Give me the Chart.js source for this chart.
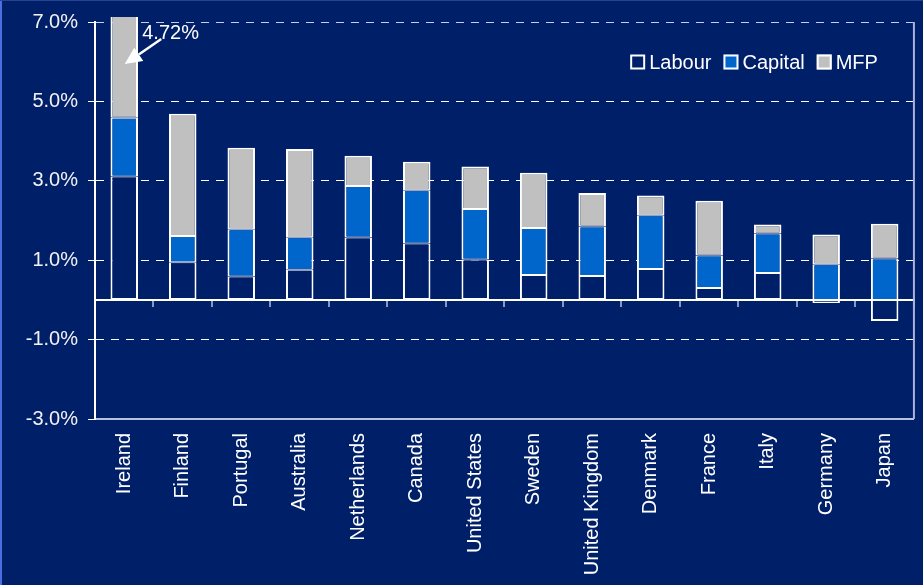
<!DOCTYPE html>
<html><head><meta charset="utf-8">
<script src="https://cdn.jsdelivr.net/npm/chart.js@4/dist/chart.umd.min.js"></script>
<style>
html,body{margin:0;padding:0;background:#001f69;overflow:hidden;}
#wrap{position:relative;width:923px;height:585px;}
#edge{position:absolute;left:0;top:0;width:2px;height:585px;background:#4a6fe0;}
#topedge{position:absolute;left:0;top:0;width:923px;height:1px;background:#2a4090;}
</style></head><body>
<div id="wrap"><canvas id="c" width="923" height="585"></canvas><div id="edge"></div><div id="topedge"></div></div>
<script>
const countries = ['Ireland','Finland','Portugal','Australia','Netherlands','Canada','United States','Sweden','United Kingdom','Denmark','France','Italy','Germany','Japan'];
const labour  = [3.11, 0.95, 0.59, 0.76, 1.57, 1.42, 1.02, 0.63, 0.60, 0.78, 0.30, 0.68, -0.08, -0.53];
const capital = [1.48, 0.66, 1.19, 0.82, 1.30, 1.34, 1.27, 1.18, 1.25, 1.35, 0.82, 0.99, 0.90, 1.04];
const mfp     = [4.72, 3.08, 2.05, 2.22, 0.76, 0.72, 1.07, 1.39, 0.84, 0.50, 1.38, 0.23, 0.75, 0.88];
const seriesNames = ['Labour','Capital','MFP'];
const yTicks = [-3, -1, 1, 3, 5, 7];
const calloutText = '4.72%';

const NAVY = '#001f69', BLUE = '#0066cc', GREY = '#c0c0c0';
const FONT = '"Liberation Sans", Arial, sans-serif';

const overlayPlugin = {
  id: 'overlay',
  afterDraw(chart) {
    const {ctx, chartArea} = chart;
    const xs = chart.scales.x, ys = chart.scales.y;
    ctx.save();
    // right frame
    ctx.strokeStyle = '#a8b2dc'; ctx.lineWidth = 2;
    ctx.beginPath(); ctx.moveTo(chartArea.right, chartArea.top); ctx.lineTo(chartArea.right, chartArea.bottom); ctx.stroke();

    // legend
    ctx.font = '20px ' + FONT;
    ctx.textBaseline = 'middle';
    const box = 15, gapBT = 4, gapItem = 12;
    const items = chart.data.datasets.map(d => ({label: d.label, fill: d.backgroundColor}));
    let total = 0;
    items.forEach((it, i) => { it.w = ctx.measureText(it.label).width; total += box + gapBT + it.w + (i ? gapItem : 0); });
    let x = chartArea.right - 36 - total;
    const cy = chartArea.top + 40;
    items.forEach(it => {
      ctx.fillStyle = it.fill; ctx.fillRect(x, cy - box/2, box, box);
      ctx.strokeStyle = '#ffffff'; ctx.lineWidth = 2; ctx.strokeRect(x + 1, cy - box/2 + 1, box - 2, box - 2);
      ctx.fillStyle = '#ffffff'; ctx.textAlign = 'left';
      ctx.fillText(it.label, x + box + gapBT, cy + 1);
      x += box + gapBT + it.w + gapItem;
    });

    // callout on first bar
    const xc = xs.getPixelForValue(0);
    ctx.fillStyle = '#ffffff';
    ctx.fillText(calloutText, xc + 18, ys.getPixelForValue(6.72));
    const x1 = xc + 37, y1 = ys.getPixelForValue(6.57);
    const x2 = xc + 0.5, y2 = ys.getPixelForValue(5.94);
    const ang = Math.atan2(y2 - y1, x2 - x1);
    const hl = 17, hw = 8;
    const bx = x2 - hl * Math.cos(ang), by = y2 - hl * Math.sin(ang);
    ctx.strokeStyle = '#ffffff'; ctx.lineWidth = 2.5;
    ctx.beginPath(); ctx.moveTo(x1, y1); ctx.lineTo(bx, by); ctx.stroke();
    ctx.beginPath();
    ctx.moveTo(x2, y2);
    ctx.lineTo(bx + hw * Math.sin(ang), by - hw * Math.cos(ang));
    ctx.lineTo(bx - hw * Math.sin(ang), by + hw * Math.cos(ang));
    ctx.closePath(); ctx.fill();
    ctx.restore();
  }
};

const mkDs = (label, data, bg, bw) => ({
  label, data, backgroundColor: bg, borderColor: '#ffffff', borderWidth: bw,
  borderSkipped: false, barPercentage: 0.47, categoryPercentage: 1,
  clip: {left: false, top: 5, right: false, bottom: false}
});

new Chart(document.getElementById('c'), {
  type: 'bar',
  data: {
    labels: countries,
    datasets: [
      mkDs(seriesNames[0], labour, NAVY, {top: 1, bottom: 2, left: 2, right: 2}),
      mkDs(seriesNames[1], capital, BLUE, {top: 1, bottom: 1, left: 2, right: 2}),
      mkDs(seriesNames[2], mfp, GREY, {top: 2, bottom: 1, left: 2, right: 2})
    ]
  },
  options: {
    responsive: false,
    animation: false,
    devicePixelRatio: 1,
    layout: {padding: {top: 20, right: 9, left: 0, bottom: 0}},
    plugins: {legend: {display: false}, tooltip: {enabled: false}},
    scales: {
      x: {
        stacked: true,
        offset: true,
        grid: {display: false, drawTicks: false},
        border: {display: true, color: '#b8c0e0', width: 2},
        ticks: {color: '#ffffff', font: {size: 20, family: FONT}, minRotation: 90, maxRotation: 90, padding: 14, autoSkip: false},
        afterFit: s => { s.height = 166; }
      },
      x0: {
        axis: 'x',
        type: 'category',
        position: {y: 0},
        offset: true,
        grid: {offset: true, drawOnChartArea: false, drawTicks: true, tickLength: 6, color: '#8a96c8', lineWidth: 2},
        border: {display: true, color: '#ffffff', width: 2},
        ticks: {display: false}
      },
      y: {
        stacked: true,
        min: -3, max: 7,
        afterBuildTicks: s => { s.ticks = yTicks.map(v => ({value: v})); },
        grid: {
          color: c => c.tick && c.tick.value === -3 ? 'rgba(0,0,0,0)' : (c.tick && c.tick.value === 7 ? '#c8cee6' : '#ffffff'),
          tickColor: '#ffffff', lineWidth: 1, tickLength: 7
        },
        border: {display: true, color: '#ffffff', width: 2, dash: [8, 7]},
        ticks: {color: '#f2f2f2', font: {size: 20, family: FONT}, padding: 10, callback: v => v.toFixed(1) + '%'},
        afterFit: s => { s.width = 95; }
      }
    }
  },
  plugins: [overlayPlugin]
});
</script>
</body></html>
